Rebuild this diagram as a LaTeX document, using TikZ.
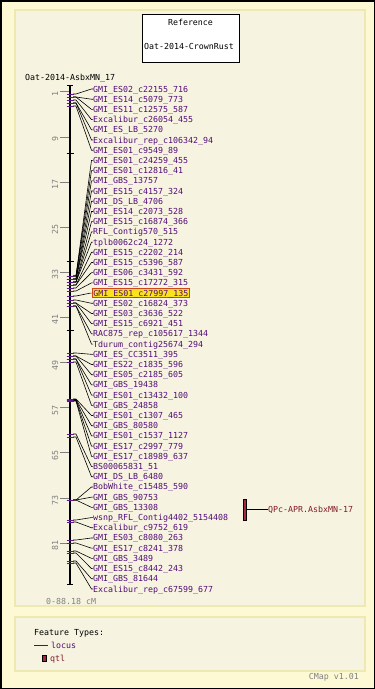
\documentclass[tikz,border=0pt]{standalone}
\usepackage{fontspec}
\setmonofont{DejaVu Sans Mono}
\definecolor{outerbg}{RGB}{252,249,212}
\definecolor{panelbg}{RGB}{246,244,224}
\definecolor{panelbd}{RGB}{238,233,178}
\definecolor{lpurple}{RGB}{82,12,120}
\definecolor{tickpurple}{RGB}{100,20,150}
\definecolor{qtlfill}{RGB}{165,40,60}
\definecolor{qtltext}{RGB}{128,28,40}
\definecolor{hlfill}{RGB}{250,226,30}
\definecolor{hlborder}{RGB}{210,70,20}
\definecolor{axgray}{RGB}{128,128,128}
\begin{document}
\begin{tikzpicture}[x=1pt,y=-1pt,
  every node/.style={font=\ttfamily\fontsize{8.3}{10}\selectfont, inner sep=0pt, text height=6pt, text depth=0pt},
  lbl/.style={anchor=west, text=lpurple},
  conn/.style={draw=black, line width=0.6pt},
  locustick/.style={draw=tickpurple, line width=0.75pt},
  blacktick/.style={draw=black, line width=0.75pt},
  scaletick/.style={draw=axgray, line width=0.8pt},
  scalelbl/.style={rotate=90, text=axgray},
  panel/.style={fill=panelbg, draw=panelbd, line width=1.5pt}]
\useasboundingbox (0,0) rectangle (375,689);
% background
\fill[outerbg] (0,0) rectangle (375,689);
\draw[black, line width=1.5pt] (0.75,0.75) rectangle (374.25,688.25);
\draw[panel] (15,10) rectangle (365,606);
\draw[panel] (15,617) rectangle (365,671);
% reference box
\node[draw=black, fill=white, line width=0.8pt, minimum width=97pt, minimum height=48pt] (refbox) at (190.5,38) {};
\node (reft) at (190.5,22) {Reference};
\node (refm) at (189,46) {Oat-2014-CrownRust};
% map title
\node[anchor=west] (mapt) at (25,77) {Oat-2014-AsbxMN\_17};
% axis
\coordinate (axtop) at (70,85);
\coordinate (axbot) at (70,585);
\draw[black, line width=2pt] (axtop) -- (axbot);
\draw[black, line width=1pt] (67,85.5) -- (73,85.5);
\draw[black, line width=1pt] (67,584.5) -- (73,584.5);
% scale ticks
\foreach \c in {1,9,17,25,33,41,49,57,65,73,81}{
  \draw[scaletick] (60,{86.2+5.64*\c}) -- (69,{86.2+5.64*\c});
  \node[scalelbl] (s\c) at (55,{86.2+5.64*\c+2.5}) {\c};
}
% unlabeled black ticks
\foreach \y in {153,261,330}{
  \draw[blacktick] (66.5,\y) -- (73.5,\y);
}
% loci
\foreach \i/\ly/\txt in {
 1/94/GMI\_ES02\_c22155\_716,
 2/97/GMI\_ES14\_c5079\_773,
 3/97/GMI\_ES11\_c12575\_587,
 4/100/Excalibur\_c26054\_455,
 5/103/GMI\_ES\_LB\_5270,
 6/103/Excalibur\_rep\_c106342\_94,
 7/106/GMI\_ES01\_c9549\_89,
 8/276/GMI\_ES01\_c24259\_455,
 9/276/GMI\_ES01\_c12816\_41,
 10/276/GMI\_GBS\_13757,
 11/279/GMI\_ES15\_c4157\_324,
 12/279/GMI\_DS\_LB\_4706,
 13/279/GMI\_ES14\_c2073\_528,
 14/282/GMI\_ES15\_c16874\_366,
 15/282/RFL\_Contig570\_515,
 16/282/tplb0062c24\_1272,
 17/285/GMI\_ES15\_c2202\_214,
 18/285/GMI\_ES15\_c5396\_587,
 19/288/GMI\_ES06\_c3431\_592,
 20/291/GMI\_ES15\_c17272\_315,
 22/300/GMI\_ES02\_c16824\_373,
 23/303/GMI\_ES03\_c3636\_522,
 24/303/GMI\_ES15\_c6921\_451,
 25/306/RAC875\_rep\_c105617\_1344,
 26/306/Tdurum\_contig25674\_294,
 27/353/GMI\_ES\_CC3511\_395,
 28/356/GMI\_ES22\_c1835\_596,
 29/356/GMI\_ES05\_c2185\_605,
 30/359/GMI\_GBS\_19438,
 31/359/GMI\_ES01\_c13432\_100,
 32/362/GMI\_GBS\_24858,
 33/399/GMI\_ES01\_c1307\_465,
 34/399.5/GMI\_GBS\_80580,
 35/400/GMI\_ES01\_c1537\_1127,
 36/400.5/GMI\_ES17\_c2997\_779,
 37/401/GMI\_ES17\_c18989\_637,
 38/434/BS00065831\_51,
 39/437/GMI\_DS\_LB\_6480,
 40/500/BobWhite\_c15485\_590,
 41/500/GMI\_GBS\_90753,
 42/500/GMI\_GBS\_13308,
 43/520/wsnp\_RFL\_Contig4402\_5154408,
 44/522/Excalibur\_c9752\_619,
 45/540/GMI\_ES03\_c8080\_263,
 46/543/GMI\_ES17\_c8241\_378,
 47/551/GMI\_GBS\_3489,
 48/553/GMI\_ES15\_c8442\_243,
 49/561/GMI\_GBS\_81644,
 50/563/Excalibur\_rep\_c67599\_677}{
  \coordinate (L\i) at (73,\ly);
  \node[lbl] (T\i) at (93,{89+(\i-1)*10.204}) {\txt};
  \draw[conn] (L\i) -- ++(3,0) -- ([xshift=-1.5pt]T\i.west) -- (T\i.west);
  \draw[locustick] (66.5,\ly) -- (73.5,\ly);
}
% highlighted locus
\coordinate (L21) at (73,296);
\node[lbl, fill=hlfill, draw=hlborder, line width=0.8pt, inner xsep=1.5pt, inner ysep=1.2pt] (T21) at (91.5,{89+20*10.204}) {GMI\_ES01\_c27997\_135};
\draw[conn] (L21) -- ++(3,0) -- ([xshift=-1pt]T21.west) -- (T21.west);
\draw[locustick] (66.5,296) -- (73.5,296);
% QTL
\node[draw=black, fill=qtlfill, line width=0.6pt, minimum width=3.5pt, minimum height=21pt, text height=0pt] (Q) at (245,509.5) {};
\node[anchor=west, text=qtltext] (QL) at (268,509.5) {QPc-APR.AsbxMN-17};
\draw[black, line width=0.7pt] (Q.east) -- (QL.west);
% scale caption
\node[anchor=west, text=axgray] (range) at (46,601) {0-88.18 cM};
% legend
\node[anchor=west] (ft) at (34,632) {Feature Types:};
\coordinate (lega) at (34,645);
\node[anchor=west, text=lpurple] (legl) at (51,645) {locus};
\draw[lpurple, line width=0.8pt] (lega) -- ([xshift=-3pt]legl.west);
\node[draw=black, fill=qtlfill, line width=0.5pt, minimum width=3.5pt, minimum height=6.5pt, text height=0pt] (legq) at (44,658) {};
\node[anchor=west, text=qtltext] (legqt) at (50,658) {qtl};
% version
\node[anchor=east, text=axgray] (ver) at (359,676) {CMap v1.01};
\end{tikzpicture}
\end{document}
